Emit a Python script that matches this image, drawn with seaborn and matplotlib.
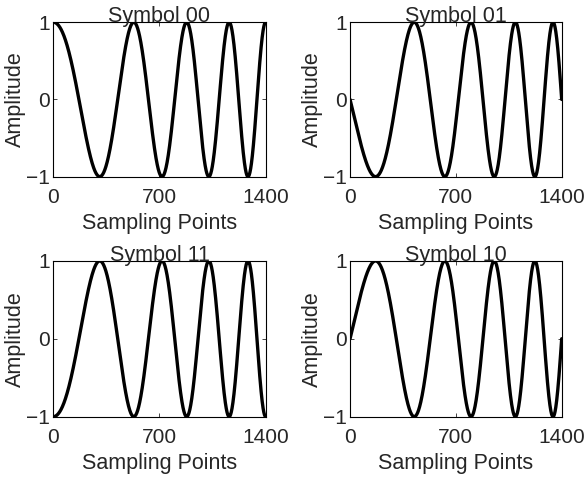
import matplotlib
matplotlib.use("Agg")
import matplotlib.pyplot as plt
import numpy as np
import pandas as pd
import seaborn as sns

# sample positions where the symbol-00 chirp hits its extrema,
# i.e. phase = 0, pi, 2pi, ... 8pi
extrema_samples = [0, 314, 534, 714, 886, 1022, 1154, 1275, 1400]
n_samples = 1400

symbols = ["00", "01", "11", "10"]
phase_offsets = [0.0, 0.5, 1.0, 1.5]  # in units of pi

x_ticks = [0, 700, 1400]
y_ticks = [-1, 0, 1]

# quadratic phase fitted through the read extrema (linear chirp), ends pinned
weights = [20] + [1] * (len(extrema_samples) - 2) + [20]
coef = np.polyfit(extrema_samples, np.arange(len(extrema_samples)) * np.pi, 2, w=weights)
samples = np.arange(0, n_samples + 1)
phase = np.polyval(coef, samples)

frames = []
for sym, off in zip(symbols, phase_offsets):
    frames.append(pd.DataFrame({
        "Sampling Points": samples,
        "Amplitude": np.cos(phase + off * np.pi),
        "symbol": sym,
    }))
data = pd.concat(frames, ignore_index=True)

sns.set_theme(style="ticks")
plt.rcParams["font.family"] = ["Liberation Sans", "DejaVu Sans"]
plt.rcParams["axes.unicode_minus"] = True

fig = plt.figure(figsize=(5.87, 4.8), dpi=100)
positions = [
    [0.0908, 0.632, 0.3618, 0.3217],
    [0.5963, 0.632, 0.3606, 0.3217],
    [0.0908, 0.132, 0.3618, 0.3244],
    [0.5963, 0.132, 0.3606, 0.3244],
]

for sym, pos in zip(symbols, positions):
    ax = fig.add_axes(pos)
    sub = data[data["symbol"] == sym]
    sns.lineplot(data=sub, x="Sampling Points", y="Amplitude", ax=ax,
                 color="black", linewidth=2.4, estimator=None)
    ax.set_xlim(0, n_samples)
    ax.set_ylim(-1, 1)
    ax.set_xticks(x_ticks)
    ax.set_yticks(y_ticks)
    ax.tick_params(direction="in", top=True, right=True, length=3,
                   width=0.6, labelsize=15)
    ax.tick_params(axis="x", pad=8.5)
    ax.tick_params(axis="y", pad=2.5)
    for sp in ax.spines.values():
        sp.set_visible(True)
        sp.set_linewidth(0.8)
        sp.set_color("black")
    ax.set_title(f"Symbol {sym}", fontsize=15.5, pad=0)
    ax.set_xlabel("Sampling Points", fontsize=15.5, labelpad=4)
    ax.set_ylabel("Amplitude", fontsize=15.5, labelpad=0)
    for lbl in ax.get_yticklabels():
        lbl.set_verticalalignment("center_baseline")

fig.savefig("out.png", dpi=100)
